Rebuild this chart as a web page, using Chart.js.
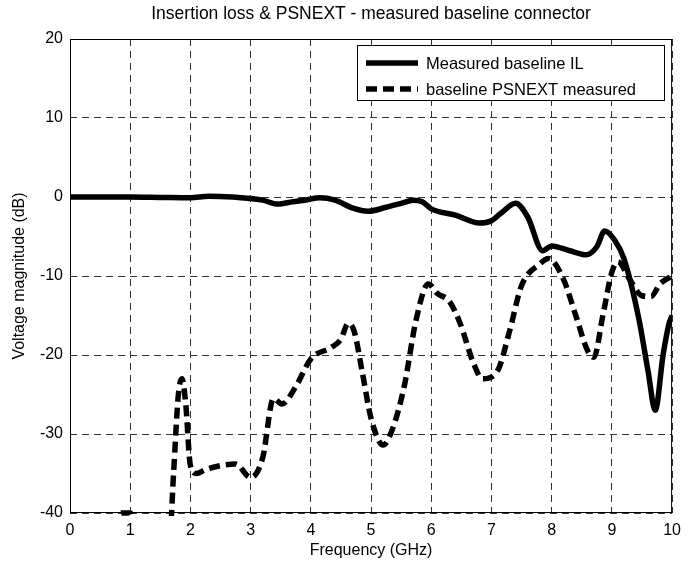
<!DOCTYPE html>
<html>
<head>
<meta charset="utf-8">
<script src="https://cdn.jsdelivr.net/npm/chart.js@4.4.1/dist/chart.umd.min.js"></script>
<style>
html,body{margin:0;padding:0;background:#fff;}
#wrap{width:689px;height:569px;position:relative;}
</style>
</head>
<body>
<div id="wrap"><canvas id="c" width="689" height="569"></canvas></div>
<script>
const chartTitle = "Insertion loss & PSNEXT - measured baseline connector";
const xTitle = "Frequency (GHz)";
const yTitle = "Voltage magnitude (dB)";
const seriesNames = ["Measured baseline IL", "baseline PSNEXT measured"];

const ilFreq = [0, 0.5, 1.0, 1.5, 2.0, 2.3, 2.7, 3.0, 3.2, 3.45, 3.7, 3.9, 4.15, 4.4, 4.7, 4.95, 5.25, 5.5, 5.7, 5.85, 6.0, 6.4, 6.8, 7.0, 7.15, 7.4, 7.6, 7.85, 8.0, 8.3, 8.58, 8.75, 8.88, 9.05, 9.2, 9.45, 9.6, 9.72, 9.85, 9.95, 10];
const ilVals = [0, 0, 0, -0.05, -0.1, 0.1, 0, -0.2, -0.4, -0.9, -0.6, -0.4, -0.1, -0.4, -1.4, -1.8, -1.3, -0.8, -0.4, -0.6, -1.5, -2.3, -3.3, -3.0, -2.1, -0.8, -2.5, -6.8, -6.2, -6.8, -7.3, -6.3, -4.3, -5.5, -7.8, -15.5, -22, -27, -20, -16, -15];

const nxFreq = [0.75, 0.85, 1.0, 1.08, 1.64, 1.72, 1.8, 1.86, 1.92, 2.0, 2.1, 2.25, 2.5, 2.75, 3.0, 3.2, 3.38, 3.52, 3.75, 4.0, 4.35, 4.5, 4.62, 4.72, 4.85, 5.0, 5.2, 5.35, 5.55, 5.75, 5.95, 6.1, 6.3, 6.48, 6.7, 6.85, 7.1, 7.3, 7.5, 7.8, 7.95, 8.2, 8.4, 8.6, 8.7, 8.85, 9.0, 9.1, 9.3, 9.5, 9.65, 9.8, 10.0];
const nxVals = [-42, -40, -40, -42, -45, -35, -25, -23, -26, -34, -35, -34.5, -34, -33.8, -35.5, -33, -25.5, -26.2, -24, -20.5, -19, -18, -16, -17, -22, -28, -31.4, -29.5, -24, -15.5, -11, -12.2, -13.2, -16, -21, -23, -22, -17, -11.2, -8.5, -7.8, -10.5, -15, -19.5, -20.3, -15, -9.5, -8.2, -10.5, -12.5, -12.6, -11, -10];

const xTicks = [0,1,2,3,4,5,6,7,8,9,10];
const yTicks = [-40,-30,-20,-10,0,10,20];

const FONT = "'Liberation Sans', Arial, Helvetica, sans-serif";

const toPts = (xs, ys) => xs.map((x, i) => ({x: x, y: ys[i]}));

const decorPlugin = {
  id: 'decor',
  afterDatasetsDraw(chart) {
    const ctx = chart.ctx;
    const a = chart.chartArea;
    ctx.save();
    // frame
    ctx.strokeStyle = '#000';
    ctx.lineWidth = 1;
    ctx.setLineDash([]);
    ctx.strokeRect(a.left + 0.5, a.top + 0.5, a.right - a.left - 1, a.bottom - a.top - 1);
    // legend
    const bx = 357, by = 45, bw = 307, bh = 55;
    ctx.fillStyle = '#fff';
    ctx.fillRect(bx, by, bw, bh);
    ctx.strokeRect(bx + 0.5, by + 0.5, bw, bh);
    const rows = [63, 89];
    chart.data.datasets.forEach((ds, i) => {
      const y = rows[i];
      ctx.beginPath();
      ctx.strokeStyle = ds.borderColor;
      ctx.lineWidth = ds.borderWidth;
      ctx.setLineDash(ds.borderDash || []);
      ctx.moveTo(366, y);
      ctx.lineTo(418, y);
      ctx.stroke();
      ctx.setLineDash([]);
      ctx.fillStyle = '#000';
      ctx.font = '16.5px ' + FONT;
      ctx.textBaseline = 'middle';
      ctx.textAlign = 'left';
      ctx.fillText(ds.label, 426, y + 1);
    });
    // title
    ctx.fillStyle = '#000';
    ctx.font = '17.5px ' + FONT;
    ctx.textAlign = 'center';
    ctx.textBaseline = 'middle';
    ctx.fillText(chartTitle, (a.left + a.right) / 2, 14);
    ctx.restore();
  }
};

new Chart(document.getElementById('c'), {
  type: 'line',
  data: {
    datasets: [
      {
        label: seriesNames[0],
        data: toPts(ilFreq, ilVals),
        borderColor: '#000',
        borderWidth: 5.5,
        pointRadius: 0,
        fill: false,
        cubicInterpolationMode: 'monotone',
        clip: {left: 0, right: 0, top: 0, bottom: 3}
      },
      {
        label: seriesNames[1],
        data: toPts(nxFreq, nxVals),
        borderColor: '#000',
        borderWidth: 5.5,
        borderDash: [11, 6],
        pointRadius: 0,
        fill: false,
        cubicInterpolationMode: 'monotone',
        clip: {left: 0, right: 0, top: 0, bottom: 3}
      }
    ]
  },
  options: {
    responsive: false,
    animation: false,
    layout: {padding: {top: 39, right: 14, left: 0, bottom: 0}},
    plugins: {legend: {display: false}, title: {display: false}, tooltip: {enabled: false}},
    scales: {
      x: {
        type: 'linear', min: 0, max: 10,
        afterBuildTicks: s => { s.ticks = xTicks.map(v => ({value: v})); },
        afterFit: s => { s.height = 56; },
        grid: {color: '#333', lineWidth: 1, drawTicks: false},
        border: {display: false, dash: [7, 5]},
        ticks: {color: '#000', font: {family: FONT, size: 16}, padding: 8, maxRotation: 0},
        title: {display: true, text: xTitle, color: '#000', font: {family: FONT, size: 16}, padding: {top: 0, bottom: 9}}
      },
      y: {
        type: 'linear', min: -40, max: 20,
        afterBuildTicks: s => { s.ticks = yTicks.map(v => ({value: v})); },
        afterFit: s => { s.width = 70; },
        grid: {color: '#333', lineWidth: 1, drawTicks: false},
        border: {display: false, dash: [7, 5]},
        ticks: {color: '#000', font: {family: FONT, size: 16}, padding: 7},
        title: {display: true, text: yTitle, color: '#000', font: {family: FONT, size: 16}, padding: {top: 10, bottom: 0}}
      }
    }
  },
  plugins: [decorPlugin]
});
</script>
</body>
</html>
